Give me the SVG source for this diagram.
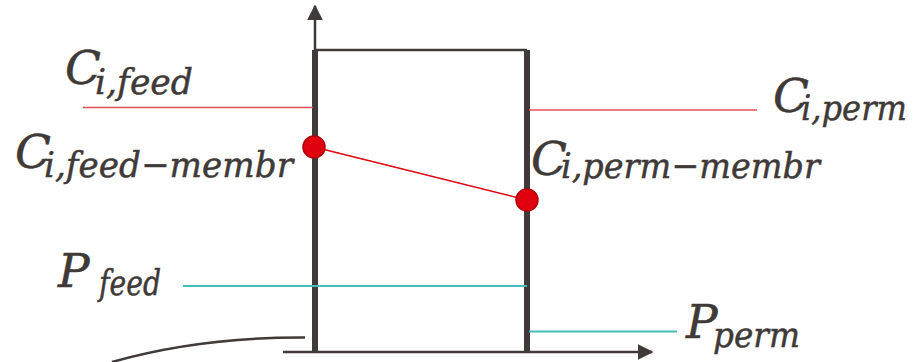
<svg xmlns="http://www.w3.org/2000/svg" width="919" height="362" viewBox="0 0 919 362">
  <defs>
    <style>
      .t { font-family: "DejaVu Serif", "Liberation Serif", serif; font-style: italic; fill: #3f3a38; stroke: #3f3a38; stroke-width: 0.5; font-size: 47px; }
      .sub { font-size: 36px; }
      .wall { stroke: #403a38; stroke-width: 6; fill: none; }
      .axis { stroke: #403a38; stroke-width: 2.5; fill: none; }
      .red { stroke: #e84c5a; stroke-width: 1.5; fill: none; }
      .teal { stroke: #45bcb5; stroke-width: 2; fill: none; }
      .dot { fill: #e0000f; stroke: #b0000a; stroke-width: 1.5; }
    </style>
    <marker id="arr" viewBox="0 0 10 10" refX="9" refY="5" markerWidth="16" markerHeight="16" markerUnits="userSpaceOnUse" orient="auto">
      <path d="M0,0 L10,5 L0,10 Z" fill="#403a38"/>
    </marker>
  </defs>

  <g id="membrane">
    <line class="axis" x1="315" y1="50" x2="527" y2="50"/>
    <line class="wall" x1="315" y1="50" x2="315" y2="353"/>
    <line class="wall" x1="527" y1="50" x2="527" y2="353"/>
  </g>

  <g id="connectors">
    <line class="axis" x1="315" y1="50" x2="315" y2="6" marker-end="url(#arr)"/>
    <line class="axis" x1="283" y1="352" x2="652" y2="352" marker-end="url(#arr)"/>
    <path class="axis" d="M112,362 Q200,337 305,337.5"/>
    <line class="red" x1="83" y1="107.5" x2="313" y2="107.5"/>
    <line class="red" x1="529" y1="110" x2="757" y2="110"/>
    <line x1="314" y1="147" x2="527" y2="200" stroke="#e0000f" stroke-width="1.5"/>
    <line class="teal" x1="183" y1="286" x2="527" y2="286"/>
    <line class="teal" x1="529" y1="331.5" x2="677" y2="331.5"/>
  </g>

  <g id="dot-feed"><circle class="dot" cx="314" cy="147" r="11"/></g>
  <g id="dot-perm"><circle class="dot" cx="527" cy="200" r="11"/></g>

  <g id="label-c-feed">
    <text class="t" x="65" y="84">C<tspan class="sub" x="95" y="94" textLength="98" lengthAdjust="spacingAndGlyphs">i,feed</tspan></text>
  </g>
  <g id="label-c-feed-membr">
    <text class="t" x="15" y="168">C<tspan class="sub" x="44" y="177" textLength="249" lengthAdjust="spacingAndGlyphs">i,feed−membr</tspan></text>
  </g>
  <g id="label-c-perm">
    <text class="t" x="773" y="112">C<tspan class="sub" x="801" y="120" textLength="106" lengthAdjust="spacingAndGlyphs">i,perm</tspan></text>
  </g>
  <g id="label-c-perm-membr">
    <text class="t" x="531" y="175">C<tspan class="sub" x="561" y="178" textLength="259" lengthAdjust="spacingAndGlyphs">i,perm−membr</tspan></text>
  </g>
  <g id="label-p-feed">
    <text class="t" x="58" y="287">P<tspan class="sub" x="99" y="295" textLength="62" lengthAdjust="spacingAndGlyphs">feed</tspan></text>
  </g>
  <g id="label-p-perm">
    <text class="t" x="686" y="338">P<tspan class="sub" x="713" y="347" textLength="87" lengthAdjust="spacingAndGlyphs">perm</tspan></text>
  </g>
</svg>
